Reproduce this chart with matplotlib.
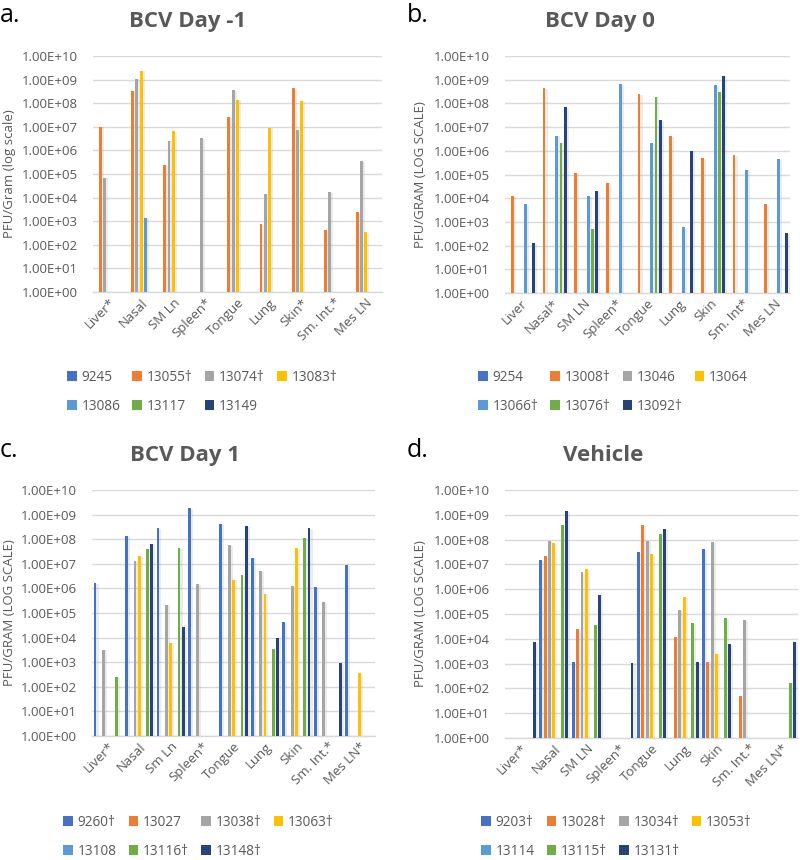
import numpy as np
import matplotlib
matplotlib.use("Agg")
import matplotlib.pyplot as plt
import matplotlib.patheffects as pe
from matplotlib.patches import Patch
from matplotlib.ticker import FixedLocator, FuncFormatter, NullLocator

plt.rcParams['font.family'] = ['Open Sans', 'DejaVu Sans']

COLORS = ['#4472C4', '#ED7D31', '#A5A5A5', '#FFC000', '#5B9BD5', '#70AD47', '#264478']

# ---------------- Panel a: BCV Day -1 ----------------
a_categories = ['Liver*', 'Nasal', 'SM Ln', 'Spleen*', 'Tongue', 'Lung', 'Skin*', 'Sm. Int.*', 'Mes LN']
a_series = ['9245', '13055†', '13074†', '13083†', '13086', '13117', '13149']
a_9245 = [0, 0, 0, 0, 0, 0, 0, 0, 0]
a_13055 = [1.0e7, 3.4e8, 2.4e5, 0, 2.6e7, 7.4e2, 4.2e8, 4.1e2, 2.4e3]
a_13074 = [7.0e4, 1.05e9, 2.6e6, 3.3e6, 3.6e8, 1.4e4, 7.4e6, 1.75e4, 3.5e5]
a_13083 = [0, 2.4e9, 6.6e6, 0, 1.4e8, 9.3e6, 1.26e8, 0, 3.4e2]
a_13086 = [0, 1.4e3, 0, 0, 0, 0, 0, 0, 0]
a_13117 = [0, 0, 0, 0, 0, 0, 0, 0, 0]
a_13149 = [0, 0, 0, 0, 0, 0, 0, 0, 0]

# ---------------- Panel b: BCV Day 0 ----------------
b_categories = ['Liver', 'Nasal*', 'SM LN', 'Spleen*', 'Tongue', 'Lung', 'Skin', 'Sm. Int*', 'Mes LN']
b_series = ['9254', '13008†', '13046', '13064', '13066†', '13076†', '13092†']
b_9254 = [0, 0, 0, 0, 0, 0, 0, 0, 0]
b_13008 = [1.2e4, 4.5e8, 1.2e5, 4.5e4, 2.4e8, 4.1e6, 4.9e5, 6.5e5, 5.8e3]
b_13046 = [0, 0, 0, 0, 0, 0, 0, 0, 0]
b_13064 = [0, 0, 0, 0, 0, 0, 0, 0, 0]
b_13066 = [5.5e3, 4.4e6, 1.2e4, 6.6e8, 2.1e6, 6.2e2, 6.0e8, 1.6e5, 4.4e5]
b_13076 = [0, 2.2e6, 5.1e2, 0, 1.9e8, 0, 3.0e8, 0, 0]
b_13092 = [1.3e2, 6.9e7, 2.0e4, 0, 1.95e7, 1.0e6, 1.5e9, 0, 3.4e2]

# ---------------- Panel c: BCV Day 1 ----------------
c_categories = ['Liver*', 'Nasal', 'Sm Ln', 'Spleen*', 'Tongue', 'Lung', 'Skin', 'Sm. Int.*', 'Mes LN*']
c_series = ['9260†', '13027', '13038†', '13063†', '13108', '13116†', '13148†']
c_9260 = [1.6e6, 1.35e8, 2.9e8, 1.85e9, 4.0e8, 1.7e7, 4.2e4, 1.1e6, 8.7e6]
c_13027 = [0, 0, 0, 0, 0, 0, 0, 0, 0]
c_13038 = [3.2e3, 1.35e7, 2.2e5, 1.5e6, 5.6e7, 5.1e6, 1.2e6, 2.8e5, 0]
c_13063 = [0, 2.0e7, 6.2e3, 0, 2.3e6, 6.1e5, 4.2e7, 0, 3.6e2]
c_13108 = [0, 0, 0, 0, 0, 0, 0, 0, 0]
c_13116 = [2.4e2, 4.0e7, 4.2e7, 0, 3.4e6, 3.6e3, 1.1e8, 0, 0]
c_13148 = [0, 6.6e7, 2.7e4, 0, 3.5e8, 9.6e3, 2.9e8, 9.3e2, 0]

# ---------------- Panel d: Vehicle ----------------
d_categories = ['Liver*', 'Nasal', 'SM LN', 'Spleen*', 'Tongue', 'Lung', 'Skin', 'Sm. Int.*', 'Mes LN*']
d_series = ['9203†', '13028†', '13034†', '13053†', '13114', '13115†', '13131†']
d_9203 = [0, 1.5e7, 1.15e3, 0, 3.2e7, 0, 4.2e7, 0, 0]
d_13028 = [0, 2.1e7, 2.5e4, 0, 3.9e8, 1.2e4, 1.2e3, 5.1e1, 0]
d_13034 = [0, 8.9e7, 5.0e6, 0, 8.9e7, 1.4e5, 7.8e7, 5.6e4, 0]
d_13053 = [0, 7.1e7, 6.4e6, 0, 2.6e7, 4.9e5, 2.5e3, 0, 0]
d_13114 = [0, 0, 0, 0, 0, 0, 0, 0, 0]
d_13115 = [0, 3.9e8, 3.7e4, 0, 1.7e8, 4.3e4, 6.8e4, 0, 1.7e2]
d_13131 = [7.1e3, 1.4e9, 6.1e5, 1.08e3, 2.7e8, 1.15e3, 6.1e3, 0, 7.1e3]

panels = [
    dict(letter='a.', title='BCV Day -1', cats=a_categories, names=a_series,
         vals=[a_9245, a_13055, a_13074, a_13083, a_13086, a_13117, a_13149],
         ylabel='PFU/Gram (log scale)', ylab_px=16,
         rect=[93/800, 1-292/860, 289/800, 236/860],
         title_xy=(188/800, 1-22/860), letter_xy=(0/800, 1-16/860),
         leg_xy=(67/800, 1-370/860)),
    dict(letter='b.', title='BCV Day 0', cats=b_categories, names=b_series,
         vals=[b_9254, b_13008, b_13046, b_13064, b_13066, b_13076, b_13092],
         ylabel='PFU/GRAM (LOG SCALE)', ylab_px=427,
         rect=[505/800, 1-293/860, 285/800, 237/860],
         title_xy=(600/800, 1-22/860), letter_xy=(407/800, 1-16/860),
         leg_xy=(478/800, 1-370/860)),
    dict(letter='c.', title='BCV Day 1', cats=c_categories, names=c_series,
         vals=[c_9260, c_13027, c_13038, c_13063, c_13108, c_13116, c_13148],
         ylabel='PFU/GRAM (LOG SCALE)', ylab_px=16,
         rect=[92/800, 1-736/860, 283/800, 246/860],
         title_xy=(185/800, 1-455/860), letter_xy=(0/800, 1-450/860),
         leg_xy=(63/800, 1-815/860)),
    dict(letter='d.', title='Vehicle', cats=d_categories, names=d_series,
         vals=[d_9203, d_13028, d_13034, d_13053, d_13114, d_13115, d_13131],
         ylabel='PFU/GRAM (LOG SCALE)', ylab_px=427,
         rect=[505/800, 1-738/860, 293/800, 248/860],
         title_xy=(603/800, 1-455/860), letter_xy=(407/800, 1-450/860),
         leg_xy=(481/800, 1-815/860)),
]

fig = plt.figure(figsize=(8, 8.6), dpi=100)
TXT = '#595959'
GRID = '#D9D9D9'

slot = 0.134
bw = 0.09

for p in panels:
    ax = fig.add_axes(p['rect'])
    ax.set_yscale('log')
    ax.set_ylim(1, 1e10)
    ncat = len(p['cats'])
    ax.set_xlim(-0.5, ncat - 0.5)
    x = np.arange(ncat)
    handles = []
    for i, (name, v) in enumerate(zip(p['names'], p['vals'])):
        v = np.array(v, dtype=float)
        h = np.where(v > 0, v - 1, 0)
        bars = ax.bar(x + (i - 3) * slot, h, width=bw, bottom=1, color=COLORS[i],
                      zorder=3, label=name, linewidth=0)
        for b in bars:
            b.set_path_effects([pe.SimplePatchShadow(offset=(1.5, -0.5), shadow_rgbFace='#9a9a9a', alpha=0.18),
                                pe.Normal()])
        handles.append(Patch(facecolor=COLORS[i], edgecolor='none'))
    # y axis
    ax.yaxis.set_major_locator(FixedLocator([10.0 ** k for k in range(11)]))
    ax.yaxis.set_minor_locator(NullLocator())
    ax.yaxis.set_major_formatter(FuncFormatter(lambda val, pos: '1.00E+%02d' % int(round(np.log10(val)))))
    ax.grid(axis='y', color=GRID, linewidth=1.0, zorder=0)
    ax.set_axisbelow(True)
    ax.tick_params(axis='y', length=0, pad=11, labelsize=9.5, labelcolor=TXT)
    ax.tick_params(axis='x', length=0, pad=3, labelsize=9.5, labelcolor=TXT)
    ax.set_xticks(x)
    ax.set_xticklabels(p['cats'], rotation=45, ha='right', va='top', rotation_mode='anchor')
    for s in ['top', 'right', 'left']:
        ax.spines[s].set_visible(False)
    ax.spines['bottom'].set_color(GRID)
    ax.spines['bottom'].set_linewidth(1.0)
    ax.set_ylabel(p['ylabel'], fontsize=9.5, color=TXT)
    xl = (p['ylab_px'] - p['rect'][0] * 800) / (p['rect'][2] * 800)
    ax.yaxis.set_label_coords(xl, 0.5)
    # titles
    fig.text(p['title_xy'][0], p['title_xy'][1], p['title'], ha='center', va='center',
             fontsize=16, fontweight='bold', color=TXT)
    fig.text(p['letter_xy'][0], p['letter_xy'][1], p['letter'], ha='left', va='center',
             fontsize=18, color='black')
    # legend: rows of 4 then 3
    order = [0, 4, 1, 5, 2, 6, 3]
    fig.legend([handles[k] for k in order], [p['names'][k] for k in order],
               loc='upper left', bbox_to_anchor=p['leg_xy'], ncol=4, frameon=False,
               fontsize=9.8, handlelength=0.7, handleheight=0.7, handletextpad=0.35,
               columnspacing=0.9, labelspacing=1.0, borderpad=0, borderaxespad=0,
               labelcolor=TXT)

fig.savefig('out.png', dpi=100)
